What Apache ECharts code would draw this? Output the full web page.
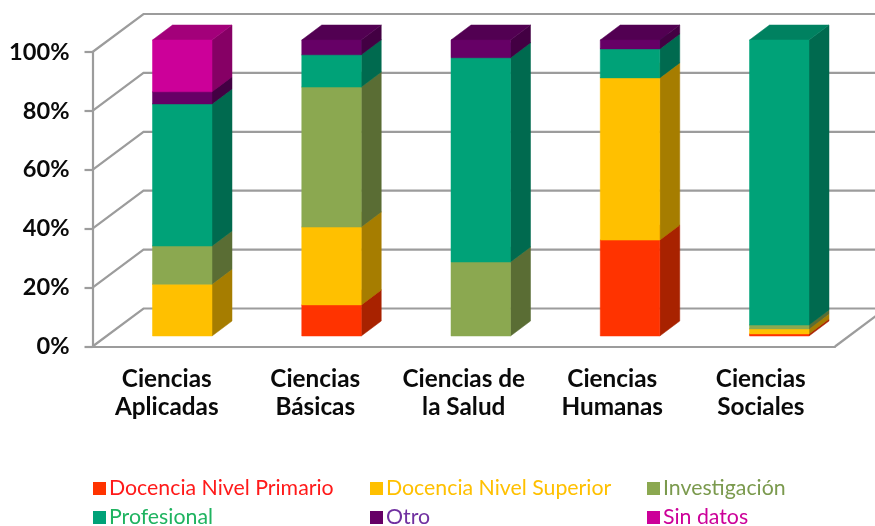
<!DOCTYPE html>
<html>
<head>
<meta charset="utf-8">
<style>
  html, body { margin: 0; padding: 0; background: #fff; }
  #chart { width: 875px; height: 526px; }
</style>
<script src="https://cdn.jsdelivr.net/npm/echarts@6/dist/echarts.min.js"></script>
</head>
<body>
<div id="chart"></div>
<script>
const categories = ["Ciencias\nAplicadas", "Ciencias\nBásicas", "Ciencias de\nla Salud", "Ciencias\nHumanas", "Ciencias\nSociales"];
const yTicks = [0, 20, 40, 60, 80, 100];

const seriesNames = ["Docencia Nivel Primario", "Docencia Nivel Superior", "Investigación", "Profesional", "Otro", "Sin datos"];
const primario = [0, 10.5, 0, 32.4, 0.7];
const superior = [17.5, 26.3, 0, 54.8, 1.7];
const investigacion = [12.9, 47.3, 25, 0, 1.3];
const profesional = [48, 10.9, 69, 9.8, 96.3];
const otro = [4.1, 5, 6, 3, 0];
const sinDatos = [17.5, 0, 0, 0, 0];
const allValues = [primario, superior, investigacion, profesional, otro, sinDatos];

const frontColors = ["#ff3300", "#ffc000", "#8ba850", "#00a278", "#660066", "#cc0099"];
const sideColors = ["#a82200", "#a67d00", "#5a6d34", "#006a4f", "#430043", "#860065"];
const topColors = ["#cc2900", "#cc9a00", "#6f8640", "#008160", "#520052", "#a3007a"];
const textColors = ["#ff1a1a", "#ffc000", "#7b9a4e", "#1fb360", "#7030a0", "#cc0099"];

const legendSpots = [[93, 478], [370, 478], [647, 478], [93, 507], [370, 507], [647, 507]];

// 3d look: offsets in pixels from the axis plane
const wallDx = 51, wallDy = -38;
const barDx = 15.5, barDy = -10.5;
const barSpread = 0.75; // the bar plane is a bit wider than the axis, each category drifts right
const barStretch = 296 / 294.5;
const depthDx = 20, depthDy = -15;
const barWidth = 59.5;
const lineColor = "#9c9c9c";
const lineWidth = 2.2;

function poly(points, fill) {
  return { type: "polygon", shape: { points }, style: { fill, stroke: fill, lineWidth: 0.5 } };
}

function renderSegment(seriesIndex, params, api) {
  const cat = api.value(0);
  const value = allValues[seriesIndex][cat];
  if (!value) return null;
  let base = 0;
  for (let i = 0; i < seriesIndex; i++) base += allValues[i][cat];
  const zero = api.coord([cat, 0]);
  const low = api.coord([cat, base]);
  const high = api.coord([cat, base + value]);
  const l = low[0] + barDx + cat * barSpread - barWidth / 2;
  const r = l + barWidth;
  const floor = zero[1] + barDy;
  const b = floor - (zero[1] - low[1]) * barStretch;
  const t = floor - (zero[1] - high[1]) * barStretch;
  return {
    type: "group",
    children: [
      poly([[r, b], [r + depthDx, b + depthDy], [r + depthDx, t + depthDy], [r, t]], sideColors[seriesIndex]),
      poly([[l, t], [r, t], [r + depthDx, t + depthDy], [l + depthDx, t + depthDy]], topColors[seriesIndex]),
      poly([[l, b], [r, b], [r, t], [l, t]], frontColors[seriesIndex]),
    ],
  };
}

function renderWall(params, api) {
  const y = api.coord([0, api.value(1)])[1];
  const left = params.coordSys.x;
  const right = left + params.coordSys.width;
  return {
    type: "polyline",
    shape: { points: [[left, y], [left + wallDx, y + wallDy], [right + wallDx, y + wallDy]] },
    style: { fill: null, stroke: lineColor, lineWidth },
  };
}

function renderFloorEdge(params, api) {
  const y = api.coord([0, 0])[1];
  const right = params.coordSys.x + params.coordSys.width;
  return {
    type: "line",
    shape: { x1: right, y1: y, x2: right + wallDx, y2: y + wallDy },
    style: { stroke: lineColor, lineWidth },
  };
}

const chart = echarts.init(document.getElementById("chart"), null, { renderer: "canvas" });

chart.setOption({
  animation: false,
  backgroundColor: "#fff",
  grid: { left: 92.5, top: 52, width: 742.5, height: 294.5 },
  xAxis: {
    type: "category",
    data: categories,
    axisLine: { lineStyle: { color: lineColor, width: lineWidth } },
    axisTick: { length: 8, lineStyle: { color: lineColor, width: lineWidth } },
    axisLabel: { color: "#0a0a0a", fontFamily: "Lato", fontWeight: "bold", fontSize: 24.3, lineHeight: 28, margin: 19, interval: 0 },
  },
  yAxis: {
    type: "value",
    min: 0,
    max: 100,
    interval: 20,
    axisLine: { show: true, lineStyle: { color: lineColor, width: lineWidth } },
    axisTick: { show: true, length: 8, lineStyle: { color: lineColor, width: lineWidth } },
    splitLine: { show: false },
    axisLabel: { color: "#0a0a0a", fontFamily: "Lato", fontWeight: "bold", fontSize: 23.6, margin: 23, padding: [5, 0, 0, 0], formatter: "{value}%" },
  },
  legend: seriesNames.map((name, i) => ({
    left: legendSpots[i][0],
    top: legendSpots[i][1],
    padding: 0,
    data: [{ name, icon: "rect", textStyle: { color: textColors[i] } }],
    itemWidth: 13,
    itemHeight: 13,
    itemGap: 0,
    selectedMode: false,
    textStyle: { fontFamily: "Lato", fontSize: 21.3, padding: [0, 0, 0, -2] },
  })),
  series: [
    {
      type: "custom",
      name: "wall",
      renderItem: renderWall,
      data: yTicks.map((tick) => [0, tick]),
      z: 1,
      silent: true,
    },
    {
      type: "custom",
      name: "floor",
      renderItem: renderFloorEdge,
      data: [[0, 0]],
      z: 1,
      silent: true,
    },
    ...seriesNames.map((name, i) => ({
      type: "custom",
      name,
      itemStyle: { color: frontColors[i] },
      renderItem: (params, api) => renderSegment(i, params, api),
      data: categories.map((_, c) => [c, allValues[i][c]]),
      z: 3,
    })),
  ],
});
</script>
</body>
</html>
